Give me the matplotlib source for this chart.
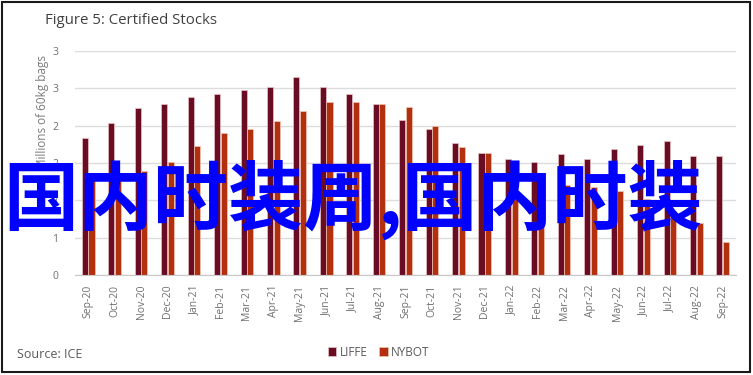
import numpy as np
import matplotlib.pyplot as plt
from matplotlib.patches import Rectangle

months = ['Sep-20', 'Oct-20', 'Nov-20', 'Dec-20', 'Jan-21', 'Feb-21', 'Mar-21', 'Apr-21',
          'May-21', 'Jun-21', 'Jul-21', 'Aug-21', 'Sep-21', 'Oct-21', 'Nov-21', 'Dec-21',
          'Jan-22', 'Feb-22', 'Mar-22', 'Apr-22', 'May-22', 'Jun-22', 'Jul-22', 'Aug-22', 'Sep-22']
liffe = [1.84, 2.03, 2.23, 2.29, 2.39, 2.42, 2.48, 2.52, 2.65, 2.52, 2.42, 2.29,
         2.08, 1.96, 1.77, 1.64, 1.55, 1.52, 1.62, 1.55, 1.69, 1.74, 1.79, 1.59, 1.59]
nybot = [1.30, 1.35, 1.39, 1.51, 1.73, 1.90, 1.96, 2.06, 2.20, 2.32, 2.32, 2.29,
         2.25, 2.00, 1.71, 1.64, 1.09, 1.05, 1.21, 1.18, 1.13, 1.02, 0.80, 0.70, 0.44]
yticks = [0, 0.5, 1, 1.5, 2, 2.5, 3]
ytick_labels = ['0', '1', '1', '2', '2', '3', '3']

plt.rcParams['font.family'] = ['Open Sans', 'DejaVu Sans']

fig = plt.figure(figsize=(7.53, 3.75), dpi=100)
ax = fig.add_axes([0.0996, 0.2667, 0.8778, 0.5973])

x = np.arange(len(months))
w = 0.23
b1 = ax.bar(x - 0.125, liffe, w, color='#6b0c25', edgecolor='#e9c4c4', linewidth=0.5, label='LIFFE', zorder=2)
b2 = ax.bar(x + 0.125, nybot, w, color='#b3300f', edgecolor='#eec6b8', linewidth=0.5, label='NYBOT', zorder=2)

ax.set_xlim(-0.5, len(months) - 0.5)
ax.set_ylim(0, 3)
ax.set_yticks(yticks)
ax.set_yticklabels(ytick_labels)
ax.set_xticks(x)
ax.set_xticklabels(months, rotation=90)
ax.tick_params(axis='both', length=0, labelsize=7.5, labelcolor='#6f6f6f')
ax.tick_params(axis='y', pad=12)
ax.tick_params(axis='x', pad=7)
ax.grid(axis='y', color='#dcdcdc', linewidth=1, zorder=0)
ax.set_axisbelow(True)
for s in ['top', 'right', 'left']:
    ax.spines[s].set_visible(False)
ax.spines['bottom'].set_color('#c8c8c8')

fig.text(0.0598, 0.944, 'Figure 5: Certified Stocks', fontsize=10.8, color='#404040', va='center', ha='left')
fig.text(0.057, 0.853, 'Millions of 60kg bags', fontsize=8.5, color='#7a7a7a', rotation=90, ha='center', va='top')
fig.text(0.0226, 0.056, 'Source: ICE', fontsize=9, color='#595959', va='center', ha='left')

fig.legend(handles=[b1, b2], loc='center', bbox_to_anchor=(0.503, 0.061), ncol=2, frameon=False,
           fontsize=8.5, labelcolor='#595959', handlelength=0.7, handleheight=0.7,
           handletextpad=0.3, columnspacing=1.0)

fig.patches.append(Rectangle((0.003, 0.008), 0.993, 0.987, transform=fig.transFigure,
                             fill=False, edgecolor='#1a1a1a', linewidth=1.5))

fig.text(0.004, 0.467, '国内时装周,国内时装', fontsize=54, color='#0000ff', fontweight='bold',
         family=['Noto Sans CJK SC', 'DejaVu Sans'], va='center', ha='left', zorder=10)

fig.savefig('out.png', dpi=100)
